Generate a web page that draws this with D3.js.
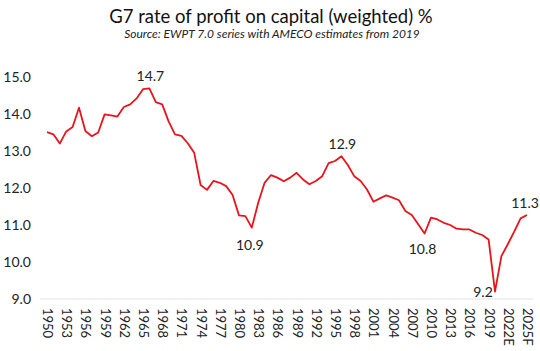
<!DOCTYPE html>
<html>
<head>
<meta charset="utf-8">
<script src="https://cdn.jsdelivr.net/npm/d3@7"></script>
<style>
  body { margin: 0; background: #fff; }
  svg { display: block; font-family: Lato, "Open Sans", sans-serif; }
</style>
</head>
<body>
<svg id="chart" width="540" height="351"></svg>
<script>
// years 1950..2025, last ones estimate / forecast
let years = [
    1950, 1951, 1952, 1953, 1954, 1955, 1956, 1957, 1958, 1959,
    1960, 1961, 1962, 1963, 1964, 1965, 1966, 1967, 1968, 1969,
    1970, 1971, 1972, 1973, 1974, 1975, 1976, 1977, 1978, 1979,
    1980, 1981, 1982, 1983, 1984, 1985, 1986, 1987, 1988, 1989,
    1990, 1991, 1992, 1993, 1994, 1995, 1996, 1997, 1998, 1999,
    2000, 2001, 2002, 2003, 2004, 2005, 2006, 2007, 2008, 2009,
    2010, 2011, 2012, 2013, 2014, 2015, 2016, 2017, 2018, 2019,
    2020, 2021, 2022, 2023, 2024, 2025,
];

let profitRate = [
    13.51, 13.45, 13.2, 13.53, 13.65, 14.17, 13.54, 13.4, 13.5, 13.99,
    13.96, 13.93, 14.19, 14.26, 14.42, 14.67, 14.69, 14.32, 14.26, 13.8,
    13.45, 13.41, 13.21, 12.95, 12.08, 11.95, 12.19, 12.14, 12.05, 11.81,
    11.26, 11.24, 10.93, 11.6, 12.14, 12.35, 12.28, 12.18, 12.28, 12.41,
    12.23, 12.1, 12.19, 12.32, 12.67, 12.73, 12.86, 12.62, 12.32, 12.19,
    11.96, 11.63, 11.72, 11.8, 11.74, 11.67, 11.38, 11.27, 11.02, 10.77,
    11.2, 11.15, 11.06, 11.0, 10.9, 10.88, 10.88, 10.79, 10.73, 10.61,
    9.2, 10.16, 10.48, 10.82, 11.18, 11.27,
];

// tick labels shown every 3 years
let tickYears = [
    1950, 1953, 1956, 1959, 1962, 1965, 1968, 1971, 1974, 1977, 1980, 1983, 1986,
    1989, 1992, 1995, 1998, 2001, 2004, 2007, 2010, 2013, 2016, 2019, 2022, 2025,
];
let tickLabels = [
    "1950", "1953", "1956", "1959", "1962", "1965", "1968", "1971", "1974", "1977",
    "1980", "1983", "1986", "1989", "1992", "1995", "1998", "2001", "2004", "2007",
    "2010", "2013", "2016", "2019", "2022E", "2025F",
];

let yTicks = [9, 10, 11, 12, 13, 14, 15];

// years whose value gets a data label
let labelYears = [1966, 1982, 1996, 2009, 2020, 2025];

let title = "G7 rate of profit on capital (weighted) %";
let subtitle = "Source: EWPT 7.0 series with AMECO estimates from 2019";

let svg = d3.select("#chart");

let x = d3.scalePoint().domain(years).range([47, 527]);
let y = d3.scaleLinear().domain([9, 15]).range([299, 77]);

let data = years.map((yr, i) => ({ year: yr, value: profitRate[i] }));

// titles
svg.append("text")
    .attr("x", 271)
    .attr("y", 23)
    .attr("text-anchor", "middle")
    .style("font-size", "18.5px")
    .style("fill", "#111")
    .text(title);

svg.append("text")
    .attr("x", 272)
    .attr("y", 38)
    .attr("text-anchor", "middle")
    .style("font-size", "12px")
    .style("font-style", "italic")
    .style("fill", "#222")
    .text(subtitle);

// y axis (labels only)
svg.append("g")
    .selectAll("text")
    .data(yTicks)
    .enter()
    .append("text")
    .attr("x", 31)
    .attr("y", (d) => y(d))
    .attr("dy", "0.35em")
    .attr("text-anchor", "end")
    .style("font-size", "14px")
    .style("fill", "#222")
    .text((d) => d.toFixed(1));

// baseline
svg.append("line")
    .attr("x1", 40)
    .attr("x2", 533)
    .attr("y1", y(9))
    .attr("y2", y(9))
    .attr("stroke", "#e3e3e3")
    .attr("stroke-width", 1);

// x axis
let xAxis = d3.axisBottom(x)
    .tickValues(tickYears)
    .tickSize(0)
    .tickPadding(0)
    .tickFormat((d) => tickLabels[tickYears.indexOf(d)]);

let gx = svg.append("g")
    .attr("transform", `translate(0, ${y(9)})`)
    .call(xAxis);

gx.select(".domain").remove();
gx.selectAll("text")
    .attr("transform", "rotate(90)")
    .attr("x", 9)
    .attr("y", 0)
    .attr("dy", "0.35em")
    .attr("text-anchor", "start")
    .style("font-family", "Lato, 'Open Sans', sans-serif")
    .style("font-size", "13px")
    .style("fill", "#222");

// line
let line = d3.line()
    .x((d) => x(d.year))
    .y((d) => y(d.value));

svg.append("path")
    .datum(data)
    .attr("d", line)
    .attr("fill", "none")
    .attr("stroke", "#e8141c")
    .attr("stroke-width", 1.8)
    .attr("stroke-linejoin", "round");

// data labels
let offsets = {
    1966: [1, -12],
    1982: [-2, 18],
    1996: [1, -12],
    2009: [-2, 16],
    2020: [-12, 0],
    2025: [-2, -12],
};

svg.append("g")
    .selectAll("text")
    .data(data.filter((d) => labelYears.includes(d.year)))
    .enter()
    .append("text")
    .attr("x", (d) => x(d.year) + offsets[d.year][0])
    .attr("y", (d) => y(d.value) + offsets[d.year][1])
    .attr("dy", "0.35em")
    .attr("text-anchor", "middle")
    .style("font-size", "14px")
    .style("fill", "#222")
    .text((d) => d.value.toFixed(1));
</script>
</body>
</html>
